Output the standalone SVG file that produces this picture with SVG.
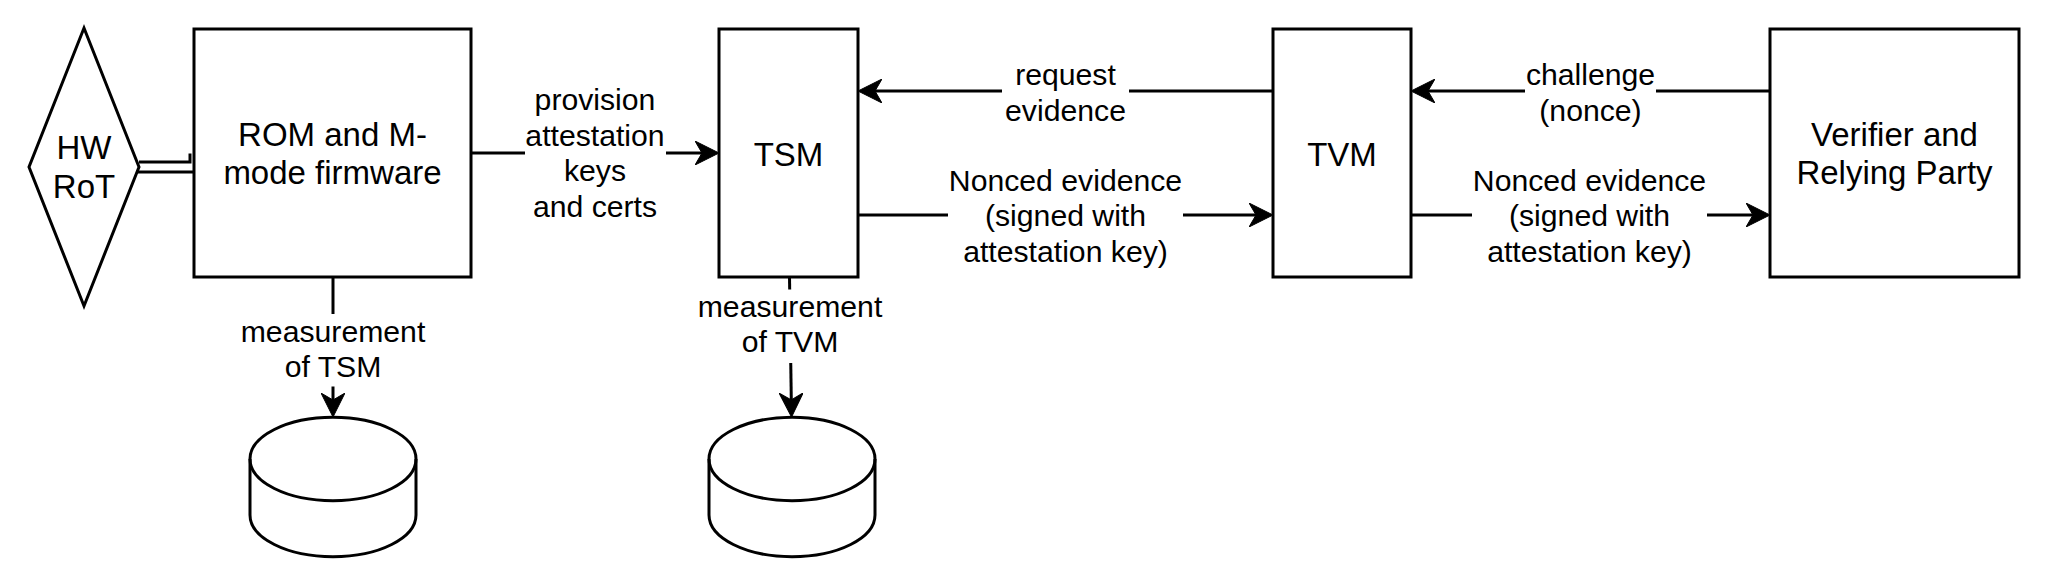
<svg xmlns="http://www.w3.org/2000/svg" width="2048" height="586" viewBox="0 0 2048 586">
<style>
.shape{fill:#fff;stroke:#000;stroke-width:3}
.edge{fill:none;stroke:#000;stroke-width:3}
.nl{font-family:"Liberation Sans",Arial,sans-serif;font-size:33px;fill:#000;text-anchor:middle}
.el{font-family:"Liberation Sans",Arial,sans-serif;font-size:30.2px;fill:#000;text-anchor:middle}
.bg{fill:#fff;stroke:none}
</style>
<defs>
<marker id="arrow" viewBox="0 0 24 24" refX="14" refY="12" markerWidth="24" markerHeight="24" markerUnits="userSpaceOnUse" orient="auto">
<path d="M0,0 L24,12 L0,24 L7,12 Z" fill="#000" stroke="#000" stroke-width="1"/>
</marker>
</defs>
<rect width="2048" height="586" fill="#fff"/>

<g id="connectors">
<path class="edge" d="M139,162 H190 V153.5"/>
<path class="edge" d="M137,172 H194"/>
<path class="edge" d="M471,153 H709" marker-end="url(#arrow)"/>
<path class="edge" d="M1273,91 H868" marker-end="url(#arrow)"/>
<path class="edge" d="M858,215 H1263" marker-end="url(#arrow)"/>
<path class="edge" d="M1770,91 H1421" marker-end="url(#arrow)"/>
<path class="edge" d="M1411,215 H1760" marker-end="url(#arrow)"/>
<path class="edge" d="M333,277 V407" marker-end="url(#arrow)"/>
<path class="edge" d="M789.5,277 L791.4,407" marker-end="url(#arrow)"/>
</g>

<g id="label-provision">
<rect class="bg" x="525" y="82" width="141" height="142"/>
<text class="el" x="595" y="110">provision</text>
<text class="el" x="595" y="145.6">attestation</text>
<text class="el" x="595" y="181.2">keys</text>
<text class="el" x="595" y="216.8">and certs</text>
</g>
<g id="label-request">
<rect class="bg" x="1002" y="60" width="127" height="70"/>
<text class="el" x="1065.5" y="85">request</text>
<text class="el" x="1065.5" y="120.6">evidence</text>
</g>
<g id="label-nonced1">
<rect class="bg" x="948" y="166" width="235" height="104"/>
<text class="el" x="1065.5" y="190.5">Nonced evidence</text>
<text class="el" x="1065.5" y="226">(signed with</text>
<text class="el" x="1065.5" y="261.6">attestation key)</text>
</g>
<g id="label-challenge">
<rect class="bg" x="1525" y="60" width="131" height="70"/>
<text class="el" x="1590.5" y="85">challenge</text>
<text class="el" x="1590.5" y="120.6">(nonce)</text>
</g>
<g id="label-nonced2">
<rect class="bg" x="1472" y="166" width="235" height="104"/>
<text class="el" x="1589.5" y="190.5">Nonced evidence</text>
<text class="el" x="1589.5" y="226">(signed with</text>
<text class="el" x="1589.5" y="261.6">attestation key)</text>
</g>
<g id="label-meas-tsm">
<rect class="bg" x="238" y="314" width="190" height="72.5"/>
<text class="el" x="333" y="341.7">measurement</text>
<text class="el" x="333" y="377.3">of TSM</text>
</g>
<g id="label-meas-tvm">
<rect class="bg" x="695" y="289.5" width="190" height="73.5"/>
<text class="el" x="790" y="316.7">measurement</text>
<text class="el" x="790" y="352.3">of TVM</text>
</g>

<g id="hw-rot">
<polygon class="shape" points="84,28 139,167 84,306 29,167"/>
<text class="nl" x="84" y="159">HW</text>
<text class="nl" x="84" y="198">RoT</text>
</g>
<g id="rom">
<rect class="shape" x="194" y="29" width="277" height="248"/>
<text class="nl" x="332.5" y="145.7">ROM and M-</text>
<text class="nl" x="332.5" y="184">mode firmware</text>
</g>
<g id="tsm">
<rect class="shape" x="719" y="29" width="139" height="248"/>
<text class="nl" x="788.5" y="165.7">TSM</text>
</g>
<g id="tvm">
<rect class="shape" x="1273" y="29" width="138" height="248"/>
<text class="nl" x="1342" y="165.7">TVM</text>
</g>
<g id="verifier">
<rect class="shape" x="1770" y="29" width="249" height="248"/>
<text class="nl" x="1894.5" y="145.7">Verifier and</text>
<text class="nl" x="1894.5" y="184">Relying Party</text>
</g>
<g id="store-tsm">
<path class="shape" d="M250,459 A83,41.7 0 0 1 416,459 V515 A83,41.7 0 0 1 250,515 Z"/>
<path class="edge" d="M250,459 A83,41.7 0 0 0 416,459"/>
</g>
<g id="store-tvm">
<path class="shape" d="M709,459 A83,41.7 0 0 1 875,459 V515 A83,41.7 0 0 1 709,515 Z"/>
<path class="edge" d="M709,459 A83,41.7 0 0 0 875,459"/>
</g>
</svg>
